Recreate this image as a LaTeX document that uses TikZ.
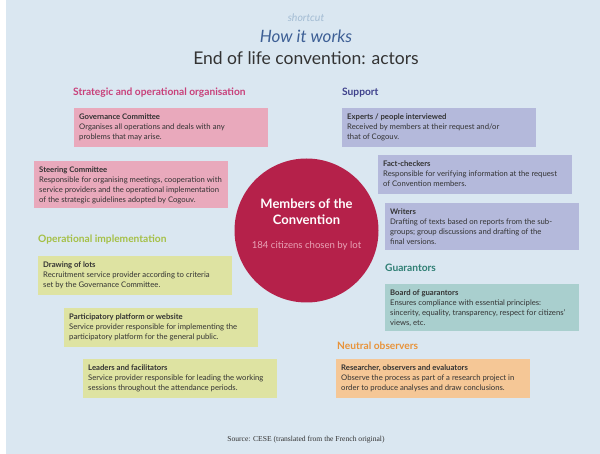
\documentclass[tikz,border=0pt]{standalone}
\usepackage{fontspec}
\setmainfont{Lato}
\newfontfamily\srcfont{Liberation Serif}
\definecolor{bg}{HTML}{DAE7F1}
\definecolor{txt}{HTML}{333333}
\definecolor{pinkbox}{HTML}{E9A9BC}
\definecolor{pinkhd}{HTML}{C8407A}
\definecolor{greenbox}{HTML}{DEE3A2}
\definecolor{greenhd}{HTML}{A5C046}
\definecolor{purplebox}{HTML}{B4B9DB}
\definecolor{purplehd}{HTML}{3F418C}
\definecolor{tealbox}{HTML}{A9CFCE}
\definecolor{tealhd}{HTML}{2F7F74}
\definecolor{orangebox}{HTML}{F5C796}
\definecolor{orangehd}{HTML}{E8933A}
\definecolor{conv}{HTML}{B5214A}
\definecolor{convsub}{HTML}{E9A3B6}
\definecolor{howblue}{HTML}{3D5F95}
\definecolor{shortc}{HTML}{A3BCD3}
\begin{document}
\begin{tikzpicture}[x=1pt,y=-1pt,
  rect/.style={anchor=north west, inner sep=0pt, minimum width=194pt},
  box3/.style={rect, minimum height=39pt},
  box4/.style={rect, minimum height=47pt},
  btxt/.style={anchor=north west, inner sep=0pt, align=left, text=txt,
    font=\fontsize{7.7}{9.8}\selectfont},
  hd/.style={anchor=west, inner sep=0pt, font=\fontsize{10.2}{12}\selectfont\bfseries}]
\useasboundingbox (0,0) rectangle (600,454);
\fill[bg] (6,0) rectangle (600,454);

% titles
\node[text=shortc, font=\fontsize{10.5}{11}\selectfont\itshape] (short) at (306,18) {shortcut};
\node[text=howblue, font=\fontsize{17}{19}\selectfont\itshape] (how) at (306,36) {How it works};
\node[text=txt, font=\fontsize{17.5}{20}\selectfont] (title) at (306,58) {End of life convention: actors};

% left: strategic
\node[hd, text=pinkhd] (hstrat) at (73,93) {Strategic and operational organisation};
\node[box3, fill=pinkbox] (gov) at (74,108) {};
\node[btxt] (govt) at ([xshift=5pt,yshift=-6pt]gov.north west) {\textbf{Governance Committee}\\Organises all operations and deals with any\\problems that may arise.};
\node[box4, fill=pinkbox] (steer) at (34,161) {};
\node[btxt] (steert) at ([xshift=5pt,yshift=-6pt]steer.north west) {\textbf{Steering Committee}\\Responsible for organising meetings, cooperation with\\service providers and the operational implementation\\of the strategic guidelines adopted by Cogouv.};

% left: operational
\node[hd, text=greenhd] (hop) at (38,240) {Operational implementation};
\node[box3, fill=greenbox] (lots) at (38,256) {};
\node[btxt] (lotst) at ([xshift=5pt,yshift=-6pt]lots.north west) {\textbf{Drawing of lots}\\Recruitment service provider according to criteria\\set by the Governance Committee.};
\node[box3, fill=greenbox] (plat) at (64,308) {};
\node[btxt] (platt) at ([xshift=5pt,yshift=-6pt]plat.north west) {\textbf{Participatory platform or website}\\Service provider responsible for implementing the\\participatory platform for the general public.};
\node[box3, fill=greenbox] (lead) at (83,359) {};
\node[btxt] (leadt) at ([xshift=5pt,yshift=-6pt]lead.north west) {\textbf{Leaders and facilitators}\\Service provider responsible for leading the working\\sessions throughout the attendance periods.};

% right: support
\node[hd, text=purplehd] (hsup) at (342,93) {Support};
\node[box3, fill=purplebox] (exp) at (342,108) {};
\node[btxt] (expt) at ([xshift=5pt,yshift=-6pt]exp.north west) {\textbf{Experts / people interviewed}\\Received by members at their request and/or\\that of Cogouv.};
\node[box3, fill=purplebox] (fact) at (378,155) {};
\node[btxt] (factt) at ([xshift=5pt,yshift=-6pt]fact.north west) {\textbf{Fact-checkers}\\Responsible for verifying information at the request\\of Convention members.};
\node[box4, fill=purplebox] (writ) at (385,203) {};
\node[btxt] (writt) at ([xshift=5pt,yshift=-6pt]writ.north west) {\textbf{Writers}\\Drafting of texts based on reports from the sub-\\groups; group discussions and drafting of the\\final versions.};

% right: guarantors
\node[hd, text=tealhd] (hguar) at (385,268) {Guarantors};
\node[box4, fill=tealbox] (board) at (385,284) {};
\node[btxt] (boardt) at ([xshift=5pt,yshift=-6pt]board.north west) {\textbf{Board of guarantors}\\Ensures compliance with essential principles:\\sincerity, equality, transparency, respect for citizens'\\views, etc.};

% right: neutral observers
\node[hd, text=orangehd] (hneut) at (337,346) {Neutral observers};
\node[box3, fill=orangebox] (res) at (336,359) {};
\node[btxt] (rest) at ([xshift=5pt,yshift=-6pt]res.north west) {\textbf{Researcher, observers and evaluators}\\Observe the process as part of a research project in\\order to produce analyses and draw conclusions.};

% centre circle
\node[circle, fill=conv, minimum size=144pt, inner sep=0pt] (circ) at (306.5,230.5) {};
\node[text=white, align=center, font=\fontsize{13}{16}\selectfont\bfseries] (mem) at (306.5,212) {Members of the\\Convention};
\node[text=convsub, font=\fontsize{9.6}{11}\selectfont] (cit) at (306.5,246) {184 citizens chosen by lot};

% source
\node[text=txt, font=\srcfont\fontsize{7.6}{9}\selectfont] (src) at (306,440) {Source: CESE (translated from the French original)};
\end{tikzpicture}
\end{document}
